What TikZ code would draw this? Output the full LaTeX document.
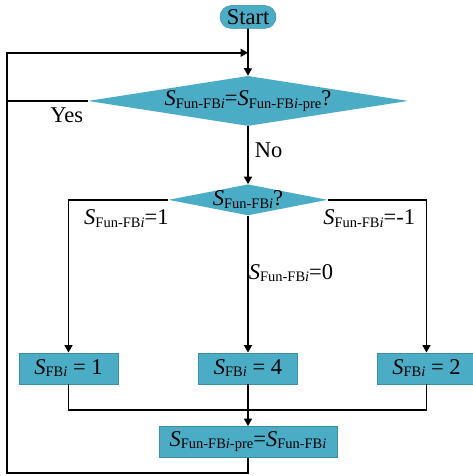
\documentclass[tikz,border=0pt]{standalone}
\usepackage{fontspec}
\setmainfont{Liberation Serif}
\usepackage{tikz}
\usetikzlibrary{
  arrows.meta,
  positioning,
  shapes.geometric,
  shapes.misc,
  calc,
}
\definecolor{flowFill}{HTML}{4BACC6}
\definecolor{flowEdge}{HTML}{3A8EA5}
\newcommand{\sVar}[1]{%
  \textit{S}\raisebox{-2.5pt}{\fontsize{14.5}{16}\selectfont #1}}
\tikzset{
  termbox/.style={
    rounded rectangle, draw=flowEdge, line width=0.5pt, fill=flowFill,
    minimum width=58pt, minimum height=23pt, inner sep=1pt,
    font=\fontsize{22.5}{26}\selectfont,
  },
  procbox/.style={
    rectangle, draw=flowEdge, line width=0.5pt, fill=flowFill,
    minimum width=99pt, minimum height=31pt, inner sep=1pt,
    font=\fontsize{22.5}{26}\selectfont,
  },
  decision/.style={
    diamond, draw=none, fill=flowFill, inner sep=0pt,
    font=\fontsize{22.5}{26}\selectfont,
  },
  lbl/.style={
    inner sep=0pt, font=\fontsize{22.5}{26}\selectfont,
  },
  lineMain/.style={
    line width=1.6pt, draw=black,
  },
  arrowMain/.style={
    lineMain, -{Triangle[length=7.5pt,width=8pt]},
  },
}

\begin{document}
\begin{tikzpicture}[x=1pt, y=1pt]

\useasboundingbox (0,0) rectangle (473,-476);

\node[termbox] (start) at (248,-17) {Start};

\node[decision, aspect=6.4, minimum width=320pt, minimum height=50pt,
  below=47pt of start] (dec1) {%
  \sVar{Fun-FB\textit{i}}=\sVar{Fun-FB\textit{i}-pre}?%
};

\node[decision, aspect=5.13, minimum width=159pt, minimum height=31pt,
  inner xsep=-8pt, below=58pt of dec1] (dec2) {\sVar{Fun-FB\textit{i}}?};

\node[procbox, below=137pt of dec2] (box2) {\sVar{FB\textit{i}} = 4};
\node[procbox, left=80pt of box2] (box1) {\sVar{FB\textit{i}} = 1};
\node[procbox, right=79pt of box2] (box3) {\sVar{FB\textit{i}} = 2};

\node[procbox, minimum width=178pt, below=42pt of box2] (fin) {%
  \sVar{Fun-FB\textit{i}-pre}=\sVar{Fun-FB\textit{i}}%
};

\coordinate[below=24pt of start.south] (loopIn);
\coordinate[below=26pt of box2.south] (merge);
\coordinate (loopCorner) at (7,-473);

% main column
\draw[arrowMain] (start) -- (dec1);
\draw[arrowMain] (dec1) -- node[lbl, right=6pt, pos=0.42] (noLbl) {No} (dec2);

% three cases
\draw[arrowMain] (dec2.west) -| node[lbl, below=9pt, pos=0.21] (lblOne)
  {\sVar{Fun-FB\textit{i}}=1} (box1);
\draw[arrowMain] (dec2.east) -| node[lbl, below=9pt, pos=0.21] (lblMinus)
  {\sVar{Fun-FB\textit{i}}=-1} (box3);
\draw[arrowMain] (dec2) -- node[lbl, anchor=west, pos=0.42] (lblZero)
  {\sVar{Fun-FB\textit{i}}=0} (box2);

% merge
\draw[lineMain] (box1) |- (merge) -| (box3);
\draw[arrowMain] (box2) -- (fin);

% loop back
\draw[arrowMain] (fin.south) |- (loopCorner) |- (loopIn);
\draw[lineMain] (dec1.west) -- node[lbl, below=6pt, pos=0.26] (yesLbl) {Yes}
  (dec1.west -| loopCorner);

\end{tikzpicture}
\end{document}
